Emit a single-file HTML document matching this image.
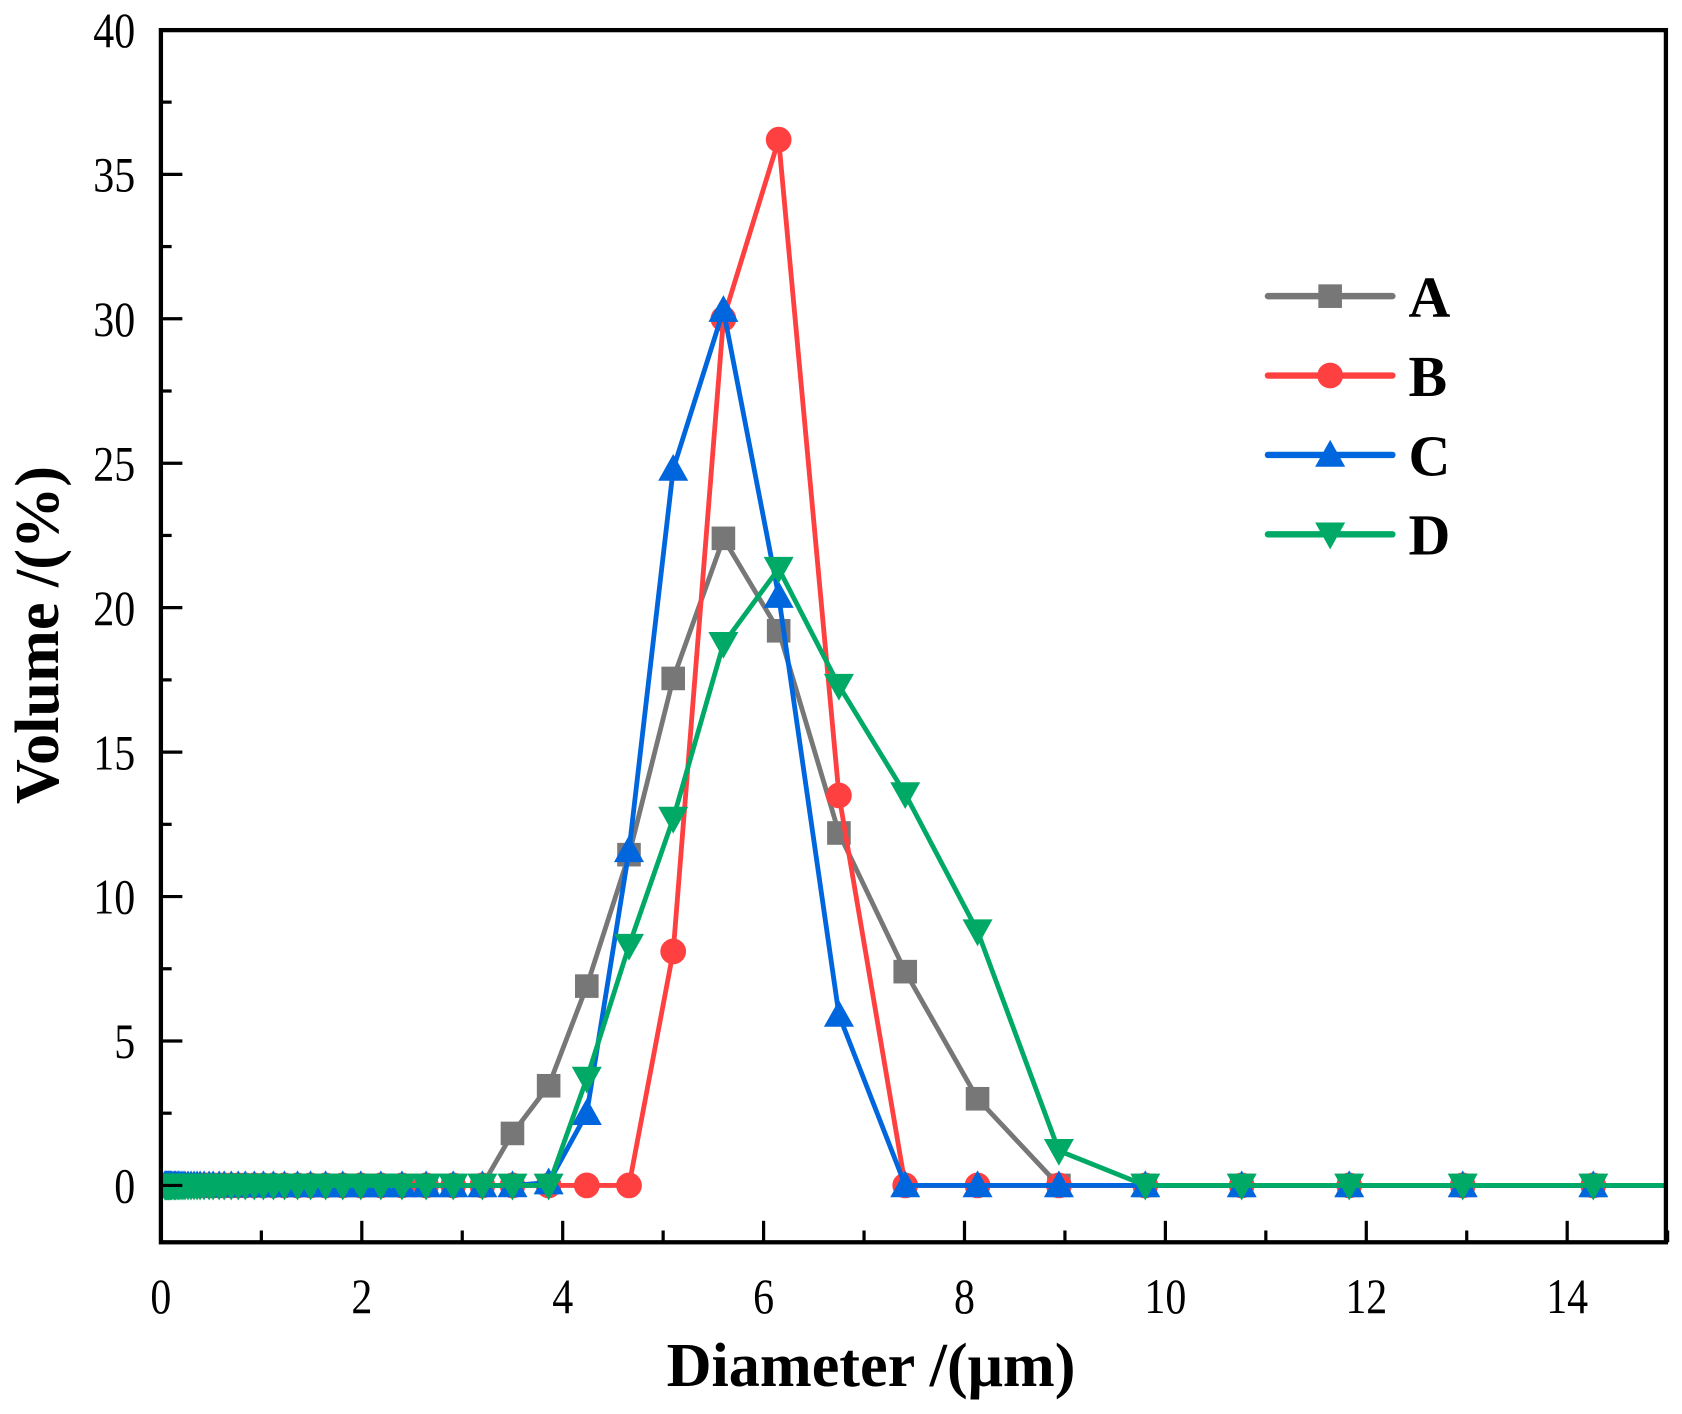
<!DOCTYPE html>
<html><head><meta charset="utf-8"><style>
html,body{margin:0;padding:0;background:#fff;}
svg{display:block;}
text{font-family:"Liberation Serif",serif;}
</style></head><body>
<svg id="chart" width="1682" height="1414" viewBox="0 0 1568 1318" xmlns="http://www.w3.org/2000/svg"></svg>
<script>
const xs = [0.04,0.05,0.05,0.06,0.07,0.08,0.08,0.09,0.10,0.11,0.13,0.14,0.15,0.17,0.18,0.20,0.22,0.24,0.27,0.30,0.33,0.36,0.39,0.43,0.48,0.52,0.58,0.63,0.70,0.77,0.84,0.93,1.02,1.12,1.23,1.36,1.49,1.64,1.81,1.99,2.19,2.40,2.64,2.91,3.20,3.50,3.86,4.24,4.66,5.10,5.60,6.15,6.75,7.41,8.13,8.94,9.80,10.76,11.83,12.96,14.26,15.6];
const nz = 44; // count of leading zero-valued points (x < 3.2)
const tailA = [0,1.8,3.45,6.9,11.45,17.55,22.4,19.2,12.2,7.4,3.0,0,0,0,0,0,0,0];
const tailB = [0,0,0,0,0,8.1,30.0,36.2,13.5,0,0,0,0,0,0,0,0,0];
const tailC = [0,0,0.1,2.5,11.6,24.8,30.3,20.4,5.9,0,0,0,0,0,0,0,0,0];
const tailD = [0,0,0,3.7,8.3,12.7,18.75,21.35,17.3,13.55,8.8,1.2,0,0,0,0,0,0];
const seriesNames = ["A","B","C","D"];
const seriesColors = ["#777777","#ff4040","#0066dd","#00aa66"];
const seriesMarkers = ["square","circle","up","down"];
const xTicks = [0,2,4,6,8,10,12,14];
const yTicks = [0,5,10,15,20,25,30,35,40];

const NS="http://www.w3.org/2000/svg";
const svg=document.getElementById('chart');
const L=150,R=1553,T=28,B=1158;
const X=v=>L+v*93.64;
const Y=v=>1105-v*26.93;
function el(tag,attrs,parent){const e=document.createElementNS(NS,tag);for(const k in attrs)e.setAttribute(k,attrs[k]);(parent||svg).appendChild(e);return e;}
function zeros(n){const a=[];for(let i=0;i<n;i++)a.push(0);return a;}
const vals=[zeros(nz).concat(tailA),zeros(nz).concat(tailB),zeros(nz).concat(tailC),zeros(nz).concat(tailD)];

const defs=el('defs',{});
const cp=el('clipPath',{id:'clip'},defs);
el('rect',{x:L,y:T-20,width:R-L,height:B-T+20},cp);

function marker(type,cx,cy,color,g){
  let m;
  if(type==='square')m=el('rect',{x:cx-11,y:cy-11,width:22,height:22,fill:color},g);
  else if(type==='circle')m=el('circle',{cx:cx,cy:cy,r:12,fill:color},g);
  else if(type==='up')m=el('polygon',{points:`${cx},${cy-14} ${cx-14},${cy+11} ${cx+14},${cy+11}`,fill:color},g);
  else m=el('polygon',{points:`${cx},${cy+14} ${cx-14},${cy-11} ${cx+14},${cy-11}`,fill:color},g);
  return m;
}

const plot=el('g',{'clip-path':'url(#clip)'});


vals.forEach((v,si)=>{
  const g=el('g',{},plot);
  
  
  const pts=v.map((y,i)=>X(xs[i]).toFixed(1)+','+Y(y).toFixed(1)).join(' ');
  const line=el('polyline',{points:pts,fill:'none',stroke:seriesColors[si],'stroke-width':4.5,'stroke-linejoin':'round'},g);
  
  
  v.forEach((y,i)=>{
    const m=marker(seriesMarkers[si],X(xs[i]),Y(y),seriesColors[si],g);
    
    
  });
});

const frame=el('rect',{x:L,y:T,width:R-L,height:B-T,fill:'none',stroke:'#000','stroke-width':4});



for(let v=0;v<=15;v++){
  const major=v%2===0;
  el('line',{x1:X(v),x2:X(v),y1:B,y2:B-(major?20:11),stroke:'#000','stroke-width':3});
}
xTicks.forEach(v=>{
  const t=el('text',{x:0,y:0,'font-size':46,'text-anchor':'middle',transform:`translate(${X(v)},1224) scale(0.85,1)`});
  t.textContent=v;
  
  
});
for(let k=0;k<=16;k++){
  const v=k*2.5, major=k%2===0;
  if(Y(v)>B||Y(v)<T)continue;
  el('line',{x1:L,x2:L+(major?20:10),y1:Y(v),y2:Y(v),stroke:'#000','stroke-width':3});
}
yTicks.forEach(v=>{
  const t=el('text',{x:0,y:0,'font-size':46,'text-anchor':'end',transform:`translate(126,${Y(v)+16}) scale(0.85,1)`});
  t.textContent=v;
  
  
});

const xt=el('text',{x:812,y:1292,'font-size':58,'font-weight':'bold','text-anchor':'middle'});
xt.textContent='Diameter /(μm)';


const yt=el('text',{x:0,y:0,'font-size':58,'font-weight':'bold','text-anchor':'middle',transform:'translate(54,592) rotate(-90)'});
yt.textContent='Volume /(%)';



const lg=el('g',{});


seriesNames.forEach((n,i)=>{
  const cy=276+i*74;
  const g=el('g',{},lg);
  
  
  el('line',{x1:1182,x2:1298,y1:cy,y2:cy,stroke:seriesColors[i],'stroke-width':6,'stroke-linecap':'round'},g);
  marker(seriesMarkers[i],1240,cy,seriesColors[i],g);
  const t=el('text',{x:1313,y:cy+19,'font-size':54,'font-weight':'bold'},g);
  t.textContent=n;
});
</script>
</body></html>
